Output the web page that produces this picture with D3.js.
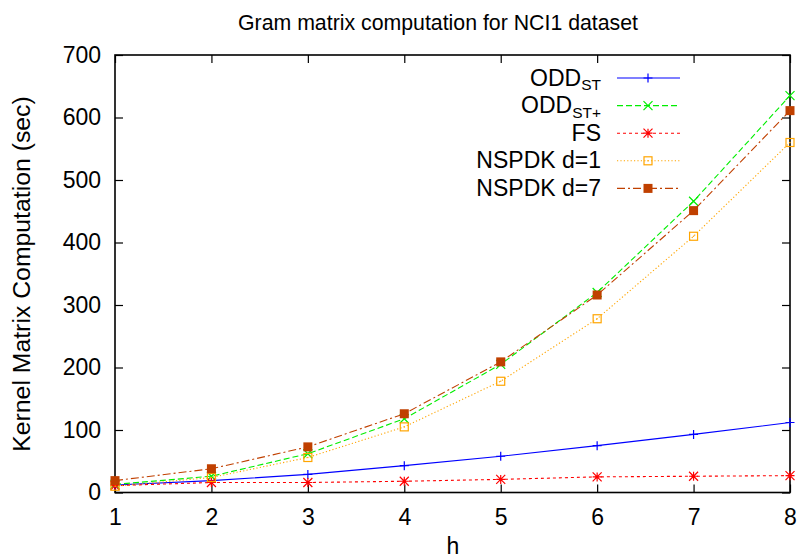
<!DOCTYPE html>
<html>
<head>
<meta charset="utf-8">
<script src="https://cdn.jsdelivr.net/npm/d3@7"></script>
<style>
  html, body { margin: 0; padding: 0; background: #fff; }
  svg text { font-family: "Liberation Sans", Arial, Helvetica, sans-serif; fill: #000; }
</style>
</head>
<body>
<svg id="chart" width="799" height="560"></svg>
<script>
// ---- data ----
const hValues = [1, 2, 3, 4, 5, 6, 7, 8];
const oddST     = [12, 19, 29, 43, 58, 75, 93, 112];
const oddSTplus = [13, 26, 62, 118, 205, 320, 466, 635];
const fsValues  = [11, 16, 16, 18, 21, 25, 26, 27];
const nspdk1    = [10, 24, 56, 105, 178, 278, 410, 560];
const nspdk7    = [19, 38, 73, 126, 209, 316, 451, 611];
const yTicks = [0, 100, 200, 300, 400, 500, 600, 700];
const xTicks = [1, 2, 3, 4, 5, 6, 7, 8];
const titleText = "Gram matrix computation for NCI1 dataset";
const xLabel = "h";
const yLabel = "Kernel Matrix Computation (sec)";

const series = [
  { name: "ODD", sub: "ST",  values: oddST,     color: "#0000ff", dash: null,        marker: "plus" },
  { name: "ODD", sub: "ST+", values: oddSTplus, color: "#00ee00", dash: "6,3",       marker: "cross" },
  { name: "FS",  sub: null,  values: fsValues,  color: "#ff0000", dash: "3,3",       marker: "star" },
  { name: "NSPDK d=1", sub: null, values: nspdk1, color: "#ffa500", dash: "1.2,2.2", marker: "openSquare" },
  { name: "NSPDK d=7", sub: null, values: nspdk7, color: "#c04000", dash: "8,3,2,3", marker: "filledSquare" }
];

// ---- layout ----
const svg = d3.select("#chart");
const pLeft = 115, pRight = 790, pTop = 55, pBottom = 492.5;
const x = d3.scaleLinear().domain([1, 8]).range([pLeft, pRight]);
const y = d3.scaleLinear().domain([0, 700]).range([pBottom, pTop]);
const TICKFONT = 23, LEGFONT = 23, TITLEFONT = 21.3, YLABFONT = 24.8, XLABFONT = 23;

// frame
svg.append("rect").attr("x", pLeft).attr("y", pTop)
  .attr("width", pRight - pLeft).attr("height", pBottom - pTop)
  .attr("fill", "none").attr("stroke", "#000").attr("stroke-width", 1.6);

const tickLen = 8;
const xAxisB = d3.axisBottom(x).tickValues(xTicks).tickSize(-tickLen).tickPadding(16).tickFormat(d3.format("d"));
const gxb = svg.append("g").attr("transform", `translate(0,${pBottom})`).call(xAxisB);
const xAxisT = d3.axisTop(x).tickValues(xTicks).tickSize(-tickLen).tickFormat("");
const gxt = svg.append("g").attr("transform", `translate(0,${pTop})`).call(xAxisT);
const yAxisL = d3.axisLeft(y).tickValues(yTicks).tickSize(-tickLen).tickPadding(14).tickFormat(d3.format("d"));
const gyl = svg.append("g").attr("transform", `translate(${pLeft},0)`).call(yAxisL);
const yAxisR = d3.axisRight(y).tickValues(yTicks).tickSize(-tickLen).tickFormat("");
const gyr = svg.append("g").attr("transform", `translate(${pRight},0)`).call(yAxisR);
[gxb, gxt, gyl, gyr].forEach(g => {
  g.select(".domain").remove();
  g.selectAll(".tick line").attr("stroke", "#000").attr("stroke-width", 1.2);
  g.selectAll(".tick text").style("font-size", TICKFONT + "px")
    .style("font-family", '"Liberation Sans", Arial, sans-serif').attr("fill", "#000");
});
gxb.selectAll(".tick text").attr("dy", "0.71em");

// title and labels
svg.append("text").attr("x", 438).attr("y", 30).attr("text-anchor", "middle")
  .style("font-size", TITLEFONT + "px").text(titleText);
svg.append("text").attr("x", 453).attr("y", 554).attr("text-anchor", "middle")
  .style("font-size", XLABFONT + "px").text(xLabel);
svg.append("text").attr("transform", "translate(30,274) rotate(-90)").attr("text-anchor", "middle")
  .style("font-size", YLABFONT + "px").text(yLabel);

// markers
function drawMarker(g, type, cx, cy, color) {
  const s = 4.5;
  if (type === "plus") {
    g.append("path").attr("d", `M${cx - s},${cy}H${cx + s}M${cx},${cy - s}V${cy + s}`)
      .attr("stroke", color).attr("stroke-width", 1.2).attr("fill", "none");
  } else if (type === "cross") {
    g.append("path").attr("d", `M${cx - s},${cy - s}L${cx + s},${cy + s}M${cx - s},${cy + s}L${cx + s},${cy - s}`)
      .attr("stroke", color).attr("stroke-width", 1.2).attr("fill", "none");
  } else if (type === "star") {
    g.append("path").attr("d", `M${cx - s},${cy}H${cx + s}M${cx},${cy - s}V${cy + s}M${cx - s},${cy - s}L${cx + s},${cy + s}M${cx - s},${cy + s}L${cx + s},${cy - s}`)
      .attr("stroke", color).attr("stroke-width", 1.2).attr("fill", "none");
  } else if (type === "openSquare") {
    g.append("rect").attr("x", cx - 4).attr("y", cy - 4).attr("width", 8).attr("height", 8)
      .attr("fill", "none").attr("stroke", color).attr("stroke-width", 1.2);
    g.append("rect").attr("x", cx - 0.6).attr("y", cy - 0.6).attr("width", 1.2).attr("height", 1.2).attr("fill", color);
  } else if (type === "filledSquare") {
    g.append("rect").attr("x", cx - 4.5).attr("y", cy - 4.5).attr("width", 9).attr("height", 9)
      .attr("fill", color);
  }
}

// series lines & markers
const line = d3.line().x((d, i) => x(hValues[i])).y(d => y(d));
series.forEach(s => {
  const g = svg.append("g");
  g.append("path").datum(s.values).attr("d", line)
    .attr("fill", "none").attr("stroke", s.color).attr("stroke-width", 1.1)
    .attr("stroke-dasharray", s.dash);
  s.values.forEach((v, i) => drawMarker(g, s.marker, x(hValues[i]), y(v), s.color));
});

// legend
const legTextX = 601, legLineX1 = 617, legLineX2 = 680, legMarkX = 648;
const legY0 = 78, legDY = 27.6;
series.forEach((s, i) => {
  const cy = legY0 + i * legDY;
  const g = svg.append("g");
  const t = g.append("text").attr("x", legTextX).attr("y", cy + 7.5).attr("text-anchor", "end")
    .style("font-size", LEGFONT + "px");
  t.append("tspan").text(s.name);
  if (s.sub) {
    t.append("tspan").attr("dy", 4.5).style("font-size", "15.5px").text(s.sub);
  }
  g.append("line").attr("x1", legLineX1).attr("x2", legLineX2).attr("y1", cy).attr("y2", cy)
    .attr("stroke", s.color).attr("stroke-width", 1.1).attr("stroke-dasharray", s.dash);
  drawMarker(g, s.marker, legMarkX, cy, s.color);
});
</script>
</body>
</html>
